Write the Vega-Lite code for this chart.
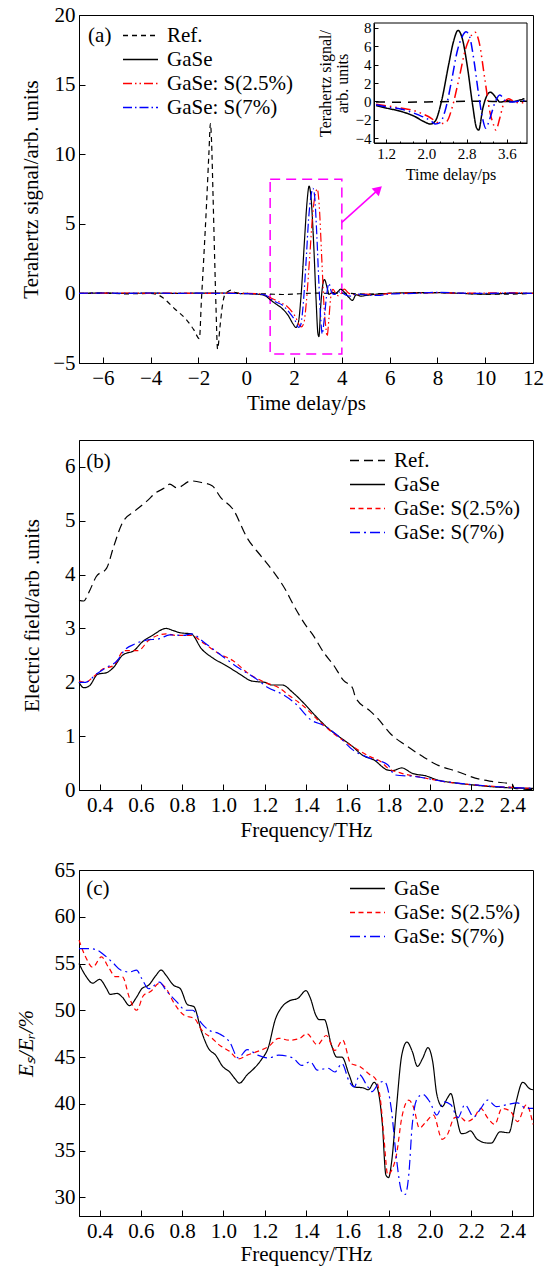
{
  "$schema": "https://vega.github.io/schema/vega-lite/v6.json",
  "background": "white",
  "padding": {"left": 14, "top": 3, "right": 5, "bottom": 2},
  "datasets": {
    "td": [
      {"s":"Ref.","t":-7,"v":0},{"s":"Ref.","t":-6,"v":0.02},{"s":"Ref.","t":-5,"v":-0.03},{"s":"Ref.","t":-4,"v":0},{"s":"Ref.","t":-3.7,"v":-0.1},{"s":"Ref.","t":-3.5,"v":-0.3},{"s":"Ref.","t":-3.0,"v":-1.1},{"s":"Ref.","t":-2.5,"v":-1.9},{"s":"Ref.","t":-2.2,"v":-2.6},{"s":"Ref.","t":-1.96,"v":-3.25},{"s":"Ref.","t":-1.88,"v":-0.6},{"s":"Ref.","t":-1.78,"v":2.5},{"s":"Ref.","t":-1.66,"v":6.5},{"s":"Ref.","t":-1.56,"v":10.2},{"s":"Ref.","t":-1.5,"v":12.2},{"s":"Ref.","t":-1.45,"v":10.8},{"s":"Ref.","t":-1.39,"v":7.0},{"s":"Ref.","t":-1.33,"v":3.0},{"s":"Ref.","t":-1.27,"v":-0.8},{"s":"Ref.","t":-1.2,"v":-4.0},{"s":"Ref.","t":-1.1,"v":-2.4},{"s":"Ref.","t":-1.0,"v":-0.9},{"s":"Ref.","t":-0.9,"v":-0.1},{"s":"Ref.","t":-0.75,"v":0.15},{"s":"Ref.","t":-0.6,"v":0.25},{"s":"Ref.","t":-0.45,"v":0.05},{"s":"Ref.","t":0,"v":0},{"s":"Ref.","t":0.5,"v":-0.02},{"s":"Ref.","t":1,"v":-0.05},{"s":"Ref.","t":1.5,"v":-0.08},{"s":"Ref.","t":2,"v":-0.05},{"s":"Ref.","t":2.5,"v":0},{"s":"Ref.","t":3,"v":0.02},{"s":"Ref.","t":3.5,"v":0},{"s":"Ref.","t":4,"v":0.02},{"s":"Ref.","t":5,"v":-0.05},{"s":"Ref.","t":6,"v":0},{"s":"Ref.","t":7,"v":0.02},{"s":"Ref.","t":8,"v":0.05},{"s":"Ref.","t":9,"v":0},{"s":"Ref.","t":10,"v":-0.05},{"s":"Ref.","t":11,"v":-0.05},{"s":"Ref.","t":12,"v":0},
      {"s":"GaSe","t":-7,"v":0},{"s":"GaSe","t":-6,"v":0.02},{"s":"GaSe","t":-5,"v":0},{"s":"GaSe","t":-4,"v":0.02},{"s":"GaSe","t":-3,"v":0},{"s":"GaSe","t":-2,"v":0.02},{"s":"GaSe","t":-1,"v":0.03},{"s":"GaSe","t":-0.5,"v":0},{"s":"GaSe","t":0,"v":-0.02},{"s":"GaSe","t":0.5,"v":-0.06},{"s":"GaSe","t":0.8,"v":-0.18},{"s":"GaSe","t":1.0,"v":-0.45},{"s":"GaSe","t":1.2,"v":-0.71},{"s":"GaSe","t":1.49,"v":-1.07},{"s":"GaSe","t":1.76,"v":-1.6},{"s":"GaSe","t":1.96,"v":-2.2},{"s":"GaSe","t":2.08,"v":-2.45},{"s":"GaSe","t":2.18,"v":-2.1},{"s":"GaSe","t":2.3,"v":0},{"s":"GaSe","t":2.44,"v":3.9},{"s":"GaSe","t":2.54,"v":6.5},{"s":"GaSe","t":2.63,"v":7.7},{"s":"GaSe","t":2.71,"v":6.9},{"s":"GaSe","t":2.82,"v":3.6},{"s":"GaSe","t":2.92,"v":-0.4},{"s":"GaSe","t":3.0,"v":-2.9},{"s":"GaSe","t":3.04,"v":-3.1},{"s":"GaSe","t":3.12,"v":-0.8},{"s":"GaSe","t":3.2,"v":0.6},{"s":"GaSe","t":3.27,"v":1.0},{"s":"GaSe","t":3.4,"v":0.3},{"s":"GaSe","t":3.46,"v":-0.07},{"s":"GaSe","t":3.6,"v":0.07},{"s":"GaSe","t":3.74,"v":0},{"s":"GaSe","t":3.85,"v":0.15},{"s":"GaSe","t":3.95,"v":0.3},{"s":"GaSe","t":4.1,"v":0.1},{"s":"GaSe","t":4.3,"v":-0.3},{"s":"GaSe","t":4.44,"v":-0.5},{"s":"GaSe","t":4.6,"v":-0.1},{"s":"GaSe","t":4.8,"v":-0.2},{"s":"GaSe","t":5.0,"v":-0.15},{"s":"GaSe","t":5.5,"v":-0.05},{"s":"GaSe","t":6,"v":0},{"s":"GaSe","t":7,"v":0.05},{"s":"GaSe","t":8,"v":0.05},{"s":"GaSe","t":9,"v":0},{"s":"GaSe","t":10,"v":-0.05},{"s":"GaSe","t":11,"v":0},{"s":"GaSe","t":12,"v":0},
      {"s":"GaSe: S(2.5%)","t":-7,"v":0},{"s":"GaSe: S(2.5%)","t":-6,"v":0.02},{"s":"GaSe: S(2.5%)","t":-5,"v":0.03},{"s":"GaSe: S(2.5%)","t":-4,"v":0},{"s":"GaSe: S(2.5%)","t":-3,"v":0.03},{"s":"GaSe: S(2.5%)","t":-2,"v":0},{"s":"GaSe: S(2.5%)","t":-1,"v":0.02},{"s":"GaSe: S(2.5%)","t":0,"v":0},{"s":"GaSe: S(2.5%)","t":0.5,"v":-0.03},{"s":"GaSe: S(2.5%)","t":0.8,"v":-0.1},{"s":"GaSe: S(2.5%)","t":1.0,"v":-0.3},{"s":"GaSe: S(2.5%)","t":1.25,"v":-0.5},{"s":"GaSe: S(2.5%)","t":1.49,"v":-0.71},{"s":"GaSe: S(2.5%)","t":1.69,"v":-0.9},{"s":"GaSe: S(2.5%)","t":2.03,"v":-1.6},{"s":"GaSe: S(2.5%)","t":2.3,"v":-2.4},{"s":"GaSe: S(2.5%)","t":2.41,"v":-2.14},{"s":"GaSe: S(2.5%)","t":2.51,"v":-0.71},{"s":"GaSe: S(2.5%)","t":2.65,"v":2.5},{"s":"GaSe: S(2.5%)","t":2.78,"v":5.7},{"s":"GaSe: S(2.5%)","t":2.9,"v":7.2},{"s":"GaSe: S(2.5%)","t":2.97,"v":7.5},{"s":"GaSe: S(2.5%)","t":3.05,"v":6.4},{"s":"GaSe: S(2.5%)","t":3.16,"v":2.5},{"s":"GaSe: S(2.5%)","t":3.26,"v":-1.07},{"s":"GaSe: S(2.5%)","t":3.34,"v":-2.6},{"s":"GaSe: S(2.5%)","t":3.38,"v":-3.1},{"s":"GaSe: S(2.5%)","t":3.46,"v":-1.79},{"s":"GaSe: S(2.5%)","t":3.53,"v":-0.36},{"s":"GaSe: S(2.5%)","t":3.63,"v":0.29},{"s":"GaSe: S(2.5%)","t":3.72,"v":0.07},{"s":"GaSe: S(2.5%)","t":3.87,"v":-0.18},{"s":"GaSe: S(2.5%)","t":4.0,"v":0.07},{"s":"GaSe: S(2.5%)","t":4.1,"v":0.3},{"s":"GaSe: S(2.5%)","t":4.3,"v":0},{"s":"GaSe: S(2.5%)","t":4.6,"v":-0.1},{"s":"GaSe: S(2.5%)","t":5,"v":-0.05},{"s":"GaSe: S(2.5%)","t":5.5,"v":-0.1},{"s":"GaSe: S(2.5%)","t":6,"v":0},{"s":"GaSe: S(2.5%)","t":7,"v":0.03},{"s":"GaSe: S(2.5%)","t":8,"v":0.05},{"s":"GaSe: S(2.5%)","t":9,"v":0.02},{"s":"GaSe: S(2.5%)","t":10,"v":0.03},{"s":"GaSe: S(2.5%)","t":11,"v":0.05},{"s":"GaSe: S(2.5%)","t":12,"v":0},
      {"s":"GaSe: S(7%)","t":-7,"v":0},{"s":"GaSe: S(7%)","t":-6,"v":0.03},{"s":"GaSe: S(7%)","t":-5,"v":0},{"s":"GaSe: S(7%)","t":-4,"v":0.03},{"s":"GaSe: S(7%)","t":-3,"v":0},{"s":"GaSe: S(7%)","t":-2,"v":0.02},{"s":"GaSe: S(7%)","t":-1,"v":0},{"s":"GaSe: S(7%)","t":0,"v":-0.02},{"s":"GaSe: S(7%)","t":0.5,"v":-0.05},{"s":"GaSe: S(7%)","t":0.8,"v":-0.12},{"s":"GaSe: S(7%)","t":1.0,"v":-0.36},{"s":"GaSe: S(7%)","t":1.21,"v":-0.6},{"s":"GaSe: S(7%)","t":1.49,"v":-0.82},{"s":"GaSe: S(7%)","t":1.83,"v":-1.43},{"s":"GaSe: S(7%)","t":2.1,"v":-2.14},{"s":"GaSe: S(7%)","t":2.18,"v":-2.45},{"s":"GaSe: S(7%)","t":2.27,"v":-2.3},{"s":"GaSe: S(7%)","t":2.37,"v":-1.07},{"s":"GaSe: S(7%)","t":2.51,"v":2.5},{"s":"GaSe: S(7%)","t":2.61,"v":5.36},{"s":"GaSe: S(7%)","t":2.71,"v":7.0},{"s":"GaSe: S(7%)","t":2.79,"v":7.55},{"s":"GaSe: S(7%)","t":2.86,"v":7.0},{"s":"GaSe: S(7%)","t":2.95,"v":4.3},{"s":"GaSe: S(7%)","t":3.04,"v":0.71},{"s":"GaSe: S(7%)","t":3.12,"v":-1.9},{"s":"GaSe: S(7%)","t":3.18,"v":-2.9},{"s":"GaSe: S(7%)","t":3.26,"v":-1.9},{"s":"GaSe: S(7%)","t":3.36,"v":-0.18},{"s":"GaSe: S(7%)","t":3.46,"v":0.71},{"s":"GaSe: S(7%)","t":3.57,"v":0.07},{"s":"GaSe: S(7%)","t":3.67,"v":-0.07},{"s":"GaSe: S(7%)","t":3.8,"v":0},{"s":"GaSe: S(7%)","t":3.9,"v":0.1},{"s":"GaSe: S(7%)","t":4.0,"v":0.05},{"s":"GaSe: S(7%)","t":4.2,"v":-0.15},{"s":"GaSe: S(7%)","t":4.4,"v":-0.2},{"s":"GaSe: S(7%)","t":4.6,"v":-0.05},{"s":"GaSe: S(7%)","t":5,"v":-0.1},{"s":"GaSe: S(7%)","t":5.5,"v":-0.15},{"s":"GaSe: S(7%)","t":6,"v":-0.05},{"s":"GaSe: S(7%)","t":7,"v":0},{"s":"GaSe: S(7%)","t":8,"v":0.08},{"s":"GaSe: S(7%)","t":9,"v":0.02},{"s":"GaSe: S(7%)","t":10,"v":0},{"s":"GaSe: S(7%)","t":11,"v":0.03},{"s":"GaSe: S(7%)","t":12,"v":0}
    ],
    "fd": [
      {"s":"Ref.","f":0.3,"v":3.52},{"s":"Ref.","f":0.323,"v":3.51},{"s":"Ref.","f":0.349,"v":3.68},{"s":"Ref.","f":0.383,"v":3.96},{"s":"Ref.","f":0.434,"v":4.12},{"s":"Ref.","f":0.468,"v":4.52},{"s":"Ref.","f":0.51,"v":4.96},{"s":"Ref.","f":0.57,"v":5.18},{"s":"Ref.","f":0.63,"v":5.37},{"s":"Ref.","f":0.672,"v":5.52},{"s":"Ref.","f":0.715,"v":5.61},{"s":"Ref.","f":0.74,"v":5.68},{"s":"Ref.","f":0.774,"v":5.61},{"s":"Ref.","f":0.843,"v":5.74},{"s":"Ref.","f":0.894,"v":5.71},{"s":"Ref.","f":0.945,"v":5.65},{"s":"Ref.","f":0.987,"v":5.43},{"s":"Ref.","f":1.047,"v":5.21},{"s":"Ref.","f":1.115,"v":4.68},{"s":"Ref.","f":1.183,"v":4.34},{"s":"Ref.","f":1.243,"v":4.05},{"s":"Ref.","f":1.302,"v":3.71},{"s":"Ref.","f":1.336,"v":3.46},{"s":"Ref.","f":1.404,"v":3.03},{"s":"Ref.","f":1.43,"v":2.9},{"s":"Ref.","f":1.49,"v":2.53},{"s":"Ref.","f":1.53,"v":2.34},{"s":"Ref.","f":1.583,"v":2.03},{"s":"Ref.","f":1.625,"v":1.9},{"s":"Ref.","f":1.64,"v":1.72},{"s":"Ref.","f":1.71,"v":1.47},{"s":"Ref.","f":1.745,"v":1.34},{"s":"Ref.","f":1.813,"v":1.03},{"s":"Ref.","f":1.88,"v":0.84},{"s":"Ref.","f":1.966,"v":0.62},{"s":"Ref.","f":2.034,"v":0.47},{"s":"Ref.","f":2.136,"v":0.34},{"s":"Ref.","f":2.22,"v":0.22},{"s":"Ref.","f":2.306,"v":0.156},{"s":"Ref.","f":2.4,"v":0.106},{"s":"Ref.","f":2.41,"v":0.03},{"s":"Ref.","f":2.5,"v":0.01},
      {"s":"GaSe","f":0.3,"v":2.0},{"s":"GaSe","f":0.323,"v":1.9},{"s":"GaSe","f":0.349,"v":1.93},{"s":"GaSe","f":0.391,"v":2.15},{"s":"GaSe","f":0.434,"v":2.18},{"s":"GaSe","f":0.468,"v":2.28},{"s":"GaSe","f":0.51,"v":2.5},{"s":"GaSe","f":0.57,"v":2.6},{"s":"GaSe","f":0.604,"v":2.74},{"s":"GaSe","f":0.655,"v":2.87},{"s":"GaSe","f":0.723,"v":3.0},{"s":"GaSe","f":0.757,"v":2.96},{"s":"GaSe","f":0.79,"v":2.92},{"s":"GaSe","f":0.843,"v":2.9},{"s":"GaSe","f":0.894,"v":2.62},{"s":"GaSe","f":0.945,"v":2.46},{"s":"GaSe","f":1.013,"v":2.31},{"s":"GaSe","f":1.08,"v":2.15},{"s":"GaSe","f":1.132,"v":2.03},{"s":"GaSe","f":1.166,"v":2.01},{"s":"GaSe","f":1.2,"v":2.0},{"s":"GaSe","f":1.234,"v":1.95},{"s":"GaSe","f":1.285,"v":1.95},{"s":"GaSe","f":1.336,"v":1.81},{"s":"GaSe","f":1.395,"v":1.59},{"s":"GaSe","f":1.455,"v":1.34},{"s":"GaSe","f":1.506,"v":1.15},{"s":"GaSe","f":1.557,"v":1.0},{"s":"GaSe","f":1.625,"v":0.81},{"s":"GaSe","f":1.676,"v":0.64},{"s":"GaSe","f":1.728,"v":0.56},{"s":"GaSe","f":1.796,"v":0.37},{"s":"GaSe","f":1.82,"v":0.36},{"s":"GaSe","f":1.864,"v":0.41},{"s":"GaSe","f":1.915,"v":0.31},{"s":"GaSe","f":1.983,"v":0.26},{"s":"GaSe","f":2.034,"v":0.19},{"s":"GaSe","f":2.136,"v":0.125},{"s":"GaSe","f":2.22,"v":0.09},{"s":"GaSe","f":2.34,"v":0.05},{"s":"GaSe","f":2.5,"v":0.03},
      {"s":"GaSe: S(2.5%)","f":0.3,"v":2.03},{"s":"GaSe: S(2.5%)","f":0.332,"v":2.0},{"s":"GaSe: S(2.5%)","f":0.366,"v":2.09},{"s":"GaSe: S(2.5%)","f":0.417,"v":2.25},{"s":"GaSe: S(2.5%)","f":0.468,"v":2.31},{"s":"GaSe: S(2.5%)","f":0.519,"v":2.59},{"s":"GaSe: S(2.5%)","f":0.587,"v":2.59},{"s":"GaSe: S(2.5%)","f":0.638,"v":2.78},{"s":"GaSe: S(2.5%)","f":0.723,"v":2.9},{"s":"GaSe: S(2.5%)","f":0.774,"v":2.87},{"s":"GaSe: S(2.5%)","f":0.843,"v":2.87},{"s":"GaSe: S(2.5%)","f":0.91,"v":2.71},{"s":"GaSe: S(2.5%)","f":0.979,"v":2.53},{"s":"GaSe: S(2.5%)","f":1.047,"v":2.4},{"s":"GaSe: S(2.5%)","f":1.115,"v":2.18},{"s":"GaSe: S(2.5%)","f":1.2,"v":2.0},{"s":"GaSe: S(2.5%)","f":1.268,"v":1.9},{"s":"GaSe: S(2.5%)","f":1.32,"v":1.75},{"s":"GaSe: S(2.5%)","f":1.387,"v":1.56},{"s":"GaSe: S(2.5%)","f":1.455,"v":1.31},{"s":"GaSe: S(2.5%)","f":1.54,"v":1.03},{"s":"GaSe: S(2.5%)","f":1.625,"v":0.81},{"s":"GaSe: S(2.5%)","f":1.71,"v":0.62},{"s":"GaSe: S(2.5%)","f":1.762,"v":0.53},{"s":"GaSe: S(2.5%)","f":1.796,"v":0.41},{"s":"GaSe: S(2.5%)","f":1.864,"v":0.31},{"s":"GaSe: S(2.5%)","f":1.966,"v":0.23},{"s":"GaSe: S(2.5%)","f":2.068,"v":0.156},{"s":"GaSe: S(2.5%)","f":2.22,"v":0.094},{"s":"GaSe: S(2.5%)","f":2.5,"v":0.03},
      {"s":"GaSe: S(7%)","f":0.3,"v":2.0},{"s":"GaSe: S(7%)","f":0.332,"v":2.0},{"s":"GaSe: S(7%)","f":0.383,"v":2.15},{"s":"GaSe: S(7%)","f":0.434,"v":2.28},{"s":"GaSe: S(7%)","f":0.485,"v":2.4},{"s":"GaSe: S(7%)","f":0.519,"v":2.59},{"s":"GaSe: S(7%)","f":0.57,"v":2.71},{"s":"GaSe: S(7%)","f":0.621,"v":2.78},{"s":"GaSe: S(7%)","f":0.69,"v":2.81},{"s":"GaSe: S(7%)","f":0.74,"v":2.88},{"s":"GaSe: S(7%)","f":0.808,"v":2.87},{"s":"GaSe: S(7%)","f":0.843,"v":2.9},{"s":"GaSe: S(7%)","f":0.91,"v":2.73},{"s":"GaSe: S(7%)","f":0.979,"v":2.53},{"s":"GaSe: S(7%)","f":1.08,"v":2.25},{"s":"GaSe: S(7%)","f":1.149,"v":2.09},{"s":"GaSe: S(7%)","f":1.217,"v":1.9},{"s":"GaSe: S(7%)","f":1.285,"v":1.78},{"s":"GaSe: S(7%)","f":1.353,"v":1.59},{"s":"GaSe: S(7%)","f":1.421,"v":1.31},{"s":"GaSe: S(7%)","f":1.49,"v":1.19},{"s":"GaSe: S(7%)","f":1.557,"v":1.0},{"s":"GaSe: S(7%)","f":1.625,"v":0.75},{"s":"GaSe: S(7%)","f":1.71,"v":0.59},{"s":"GaSe: S(7%)","f":1.796,"v":0.47},{"s":"GaSe: S(7%)","f":1.83,"v":0.28},{"s":"GaSe: S(7%)","f":1.932,"v":0.25},{"s":"GaSe: S(7%)","f":2.05,"v":0.17},{"s":"GaSe: S(7%)","f":2.22,"v":0.094},{"s":"GaSe: S(7%)","f":2.5,"v":0.03}
    ],
    "ratio": [
      {"s":"GaSe","f":0.3,"r":55.0},{"s":"GaSe","f":0.332,"r":53.7},{"s":"GaSe","f":0.366,"r":52.9},{"s":"GaSe","f":0.4,"r":53.3},{"s":"GaSe","f":0.434,"r":52.3},{"s":"GaSe","f":0.451,"r":51.7},{"s":"GaSe","f":0.485,"r":51.8},{"s":"GaSe","f":0.51,"r":51.4},{"s":"GaSe","f":0.545,"r":50.5},{"s":"GaSe","f":0.579,"r":51.4},{"s":"GaSe","f":0.604,"r":52.3},{"s":"GaSe","f":0.638,"r":52.7},{"s":"GaSe","f":0.672,"r":53.7},{"s":"GaSe","f":0.698,"r":54.3},{"s":"GaSe","f":0.723,"r":53.7},{"s":"GaSe","f":0.757,"r":52.7},{"s":"GaSe","f":0.791,"r":52.3},{"s":"GaSe","f":0.826,"r":50.6},{"s":"GaSe","f":0.856,"r":50.4},{"s":"GaSe","f":0.894,"r":47.7},{"s":"GaSe","f":0.928,"r":45.9},{"s":"GaSe","f":0.962,"r":45.2},{"s":"GaSe","f":0.996,"r":44.0},{"s":"GaSe","f":1.03,"r":43.4},{"s":"GaSe","f":1.055,"r":42.7},{"s":"GaSe","f":1.077,"r":42.2},{"s":"GaSe","f":1.115,"r":43.1},{"s":"GaSe","f":1.149,"r":43.8},{"s":"GaSe","f":1.183,"r":44.7},{"s":"GaSe","f":1.217,"r":46.0},{"s":"GaSe","f":1.251,"r":49.0},{"s":"GaSe","f":1.285,"r":50.4},{"s":"GaSe","f":1.319,"r":51.0},{"s":"GaSe","f":1.362,"r":51.3},{"s":"GaSe","f":1.4,"r":52.1},{"s":"GaSe","f":1.421,"r":51.3},{"s":"GaSe","f":1.447,"r":49.5},{"s":"GaSe","f":1.464,"r":49.0},{"s":"GaSe","f":1.489,"r":49.0},{"s":"GaSe","f":1.523,"r":46.3},{"s":"GaSe","f":1.549,"r":45.0},{"s":"GaSe","f":1.574,"r":45.0},{"s":"GaSe","f":1.609,"r":43.1},{"s":"GaSe","f":1.634,"r":41.8},{"s":"GaSe","f":1.677,"r":41.7},{"s":"GaSe","f":1.702,"r":41.5},{"s":"GaSe","f":1.731,"r":42.3},{"s":"GaSe","f":1.753,"r":41.0},{"s":"GaSe","f":1.77,"r":37.8},{"s":"GaSe","f":1.787,"r":32.4},{"s":"GaSe","f":1.8,"r":32.1},{"s":"GaSe","f":1.815,"r":33.8},{"s":"GaSe","f":1.838,"r":39.5},{"s":"GaSe","f":1.864,"r":45.2},{"s":"GaSe","f":1.889,"r":46.6},{"s":"GaSe","f":1.915,"r":45.6},{"s":"GaSe","f":1.94,"r":44.0},{"s":"GaSe","f":1.966,"r":44.9},{"s":"GaSe","f":1.991,"r":46.0},{"s":"GaSe","f":2.014,"r":44.5},{"s":"GaSe","f":2.034,"r":41.0},{"s":"GaSe","f":2.06,"r":39.7},{"s":"GaSe","f":2.085,"r":40.6},{"s":"GaSe","f":2.102,"r":41.1},{"s":"GaSe","f":2.127,"r":38.8},{"s":"GaSe","f":2.153,"r":36.8},{"s":"GaSe","f":2.178,"r":36.9},{"s":"GaSe","f":2.196,"r":37.1},{"s":"GaSe","f":2.23,"r":36.2},{"s":"GaSe","f":2.28,"r":35.8},{"s":"GaSe","f":2.298,"r":35.8},{"s":"GaSe","f":2.34,"r":37.0},{"s":"GaSe","f":2.383,"r":36.9},{"s":"GaSe","f":2.417,"r":40.1},{"s":"GaSe","f":2.45,"r":42.3},{"s":"GaSe","f":2.485,"r":41.6},{"s":"GaSe","f":2.5,"r":41.5},
      {"s":"GaSe: S(2.5%)","f":0.3,"r":57.5},{"s":"GaSe: S(2.5%)","f":0.332,"r":55.7},{"s":"GaSe: S(2.5%)","f":0.366,"r":54.6},{"s":"GaSe: S(2.5%)","f":0.409,"r":55.7},{"s":"GaSe: S(2.5%)","f":0.443,"r":54.6},{"s":"GaSe: S(2.5%)","f":0.477,"r":53.6},{"s":"GaSe: S(2.5%)","f":0.51,"r":53.6},{"s":"GaSe: S(2.5%)","f":0.545,"r":51.3},{"s":"GaSe: S(2.5%)","f":0.579,"r":50.0},{"s":"GaSe: S(2.5%)","f":0.613,"r":51.6},{"s":"GaSe: S(2.5%)","f":0.647,"r":52.0},{"s":"GaSe: S(2.5%)","f":0.69,"r":52.9},{"s":"GaSe: S(2.5%)","f":0.723,"r":52.3},{"s":"GaSe: S(2.5%)","f":0.757,"r":50.9},{"s":"GaSe: S(2.5%)","f":0.808,"r":49.5},{"s":"GaSe: S(2.5%)","f":0.86,"r":49.1},{"s":"GaSe: S(2.5%)","f":0.894,"r":47.9},{"s":"GaSe: S(2.5%)","f":0.945,"r":47.0},{"s":"GaSe: S(2.5%)","f":0.979,"r":46.3},{"s":"GaSe: S(2.5%)","f":1.03,"r":45.6},{"s":"GaSe: S(2.5%)","f":1.072,"r":44.8},{"s":"GaSe: S(2.5%)","f":1.115,"r":45.2},{"s":"GaSe: S(2.5%)","f":1.166,"r":45.6},{"s":"GaSe: S(2.5%)","f":1.217,"r":46.1},{"s":"GaSe: S(2.5%)","f":1.268,"r":47.0},{"s":"GaSe: S(2.5%)","f":1.319,"r":46.8},{"s":"GaSe: S(2.5%)","f":1.37,"r":47.0},{"s":"GaSe: S(2.5%)","f":1.404,"r":47.5},{"s":"GaSe: S(2.5%)","f":1.455,"r":46.3},{"s":"GaSe: S(2.5%)","f":1.498,"r":47.3},{"s":"GaSe: S(2.5%)","f":1.54,"r":45.7},{"s":"GaSe: S(2.5%)","f":1.578,"r":46.8},{"s":"GaSe: S(2.5%)","f":1.617,"r":44.3},{"s":"GaSe: S(2.5%)","f":1.66,"r":44.0},{"s":"GaSe: S(2.5%)","f":1.71,"r":43.1},{"s":"GaSe: S(2.5%)","f":1.736,"r":42.7},{"s":"GaSe: S(2.5%)","f":1.762,"r":40.2},{"s":"GaSe: S(2.5%)","f":1.779,"r":36.0},{"s":"GaSe: S(2.5%)","f":1.796,"r":32.4},{"s":"GaSe: S(2.5%)","f":1.813,"r":32.8},{"s":"GaSe: S(2.5%)","f":1.838,"r":34.5},{"s":"GaSe: S(2.5%)","f":1.864,"r":38.5},{"s":"GaSe: S(2.5%)","f":1.898,"r":40.4},{"s":"GaSe: S(2.5%)","f":1.923,"r":39.5},{"s":"GaSe: S(2.5%)","f":1.949,"r":37.4},{"s":"GaSe: S(2.5%)","f":1.983,"r":38.1},{"s":"GaSe: S(2.5%)","f":2.017,"r":38.8},{"s":"GaSe: S(2.5%)","f":2.06,"r":36.2},{"s":"GaSe: S(2.5%)","f":2.085,"r":36.7},{"s":"GaSe: S(2.5%)","f":2.119,"r":38.5},{"s":"GaSe: S(2.5%)","f":2.145,"r":38.6},{"s":"GaSe: S(2.5%)","f":2.178,"r":38.1},{"s":"GaSe: S(2.5%)","f":2.213,"r":38.5},{"s":"GaSe: S(2.5%)","f":2.247,"r":39.5},{"s":"GaSe: S(2.5%)","f":2.28,"r":38.5},{"s":"GaSe: S(2.5%)","f":2.315,"r":37.8},{"s":"GaSe: S(2.5%)","f":2.349,"r":39.5},{"s":"GaSe: S(2.5%)","f":2.391,"r":39.2},{"s":"GaSe: S(2.5%)","f":2.425,"r":38.1},{"s":"GaSe: S(2.5%)","f":2.468,"r":39.9},{"s":"GaSe: S(2.5%)","f":2.5,"r":37.8},
      {"s":"GaSe: S(7%)","f":0.3,"r":56.6},{"s":"GaSe: S(7%)","f":0.349,"r":56.6},{"s":"GaSe: S(7%)","f":0.391,"r":56.4},{"s":"GaSe: S(7%)","f":0.417,"r":56.0},{"s":"GaSe: S(7%)","f":0.468,"r":55.0},{"s":"GaSe: S(7%)","f":0.502,"r":54.3},{"s":"GaSe: S(7%)","f":0.545,"r":54.1},{"s":"GaSe: S(7%)","f":0.579,"r":54.3},{"s":"GaSe: S(7%)","f":0.604,"r":53.4},{"s":"GaSe: S(7%)","f":0.638,"r":52.3},{"s":"GaSe: S(7%)","f":0.69,"r":53.0},{"s":"GaSe: S(7%)","f":0.723,"r":52.1},{"s":"GaSe: S(7%)","f":0.774,"r":50.9},{"s":"GaSe: S(7%)","f":0.817,"r":50.0},{"s":"GaSe: S(7%)","f":0.851,"r":50.0},{"s":"GaSe: S(7%)","f":0.894,"r":48.6},{"s":"GaSe: S(7%)","f":0.928,"r":47.9},{"s":"GaSe: S(7%)","f":0.979,"r":47.5},{"s":"GaSe: S(7%)","f":1.03,"r":46.6},{"s":"GaSe: S(7%)","f":1.072,"r":44.9},{"s":"GaSe: S(7%)","f":1.115,"r":45.8},{"s":"GaSe: S(7%)","f":1.166,"r":45.2},{"s":"GaSe: S(7%)","f":1.217,"r":44.9},{"s":"GaSe: S(7%)","f":1.268,"r":45.2},{"s":"GaSe: S(7%)","f":1.336,"r":44.9},{"s":"GaSe: S(7%)","f":1.379,"r":44.1},{"s":"GaSe: S(7%)","f":1.421,"r":44.5},{"s":"GaSe: S(7%)","f":1.455,"r":43.6},{"s":"GaSe: S(7%)","f":1.506,"r":43.8},{"s":"GaSe: S(7%)","f":1.54,"r":43.4},{"s":"GaSe: S(7%)","f":1.574,"r":44.3},{"s":"GaSe: S(7%)","f":1.609,"r":42.4},{"s":"GaSe: S(7%)","f":1.634,"r":41.8},{"s":"GaSe: S(7%)","f":1.66,"r":43.1},{"s":"GaSe: S(7%)","f":1.694,"r":42.0},{"s":"GaSe: S(7%)","f":1.72,"r":41.3},{"s":"GaSe: S(7%)","f":1.753,"r":42.2},{"s":"GaSe: S(7%)","f":1.779,"r":42.4},{"s":"GaSe: S(7%)","f":1.813,"r":39.5},{"s":"GaSe: S(7%)","f":1.838,"r":34.2},{"s":"GaSe: S(7%)","f":1.864,"r":30.6},{"s":"GaSe: S(7%)","f":1.881,"r":30.3},{"s":"GaSe: S(7%)","f":1.898,"r":32.4},{"s":"GaSe: S(7%)","f":1.915,"r":37.8},{"s":"GaSe: S(7%)","f":1.94,"r":40.6},{"s":"GaSe: S(7%)","f":1.966,"r":41.0},{"s":"GaSe: S(7%)","f":2.0,"r":40.2},{"s":"GaSe: S(7%)","f":2.034,"r":38.8},{"s":"GaSe: S(7%)","f":2.068,"r":40.2},{"s":"GaSe: S(7%)","f":2.102,"r":39.9},{"s":"GaSe: S(7%)","f":2.136,"r":38.5},{"s":"GaSe: S(7%)","f":2.17,"r":39.9},{"s":"GaSe: S(7%)","f":2.213,"r":38.6},{"s":"GaSe: S(7%)","f":2.247,"r":39.5},{"s":"GaSe: S(7%)","f":2.28,"r":40.4},{"s":"GaSe: S(7%)","f":2.323,"r":39.7},{"s":"GaSe: S(7%)","f":2.374,"r":39.9},{"s":"GaSe: S(7%)","f":2.425,"r":40.1},{"s":"GaSe: S(7%)","f":2.468,"r":39.5},{"s":"GaSe: S(7%)","f":2.5,"r":39.5}
    ]
  },
  "vconcat": [
    {
      "width": 454,
      "height": 348,
      "layer": [
        {
          "layer": [
            {
              "data": {"values": [{"t0": 1, "t1": 4, "v0": -4.35, "v1": 8.2}]},
              "mark": {"type": "rect", "filled": false, "stroke": "#ff00ff", "strokeWidth": 1.5, "strokeDash": [10, 6]},
              "encoding": {
                "x": {"field": "t0", "type": "quantitative"},
                "x2": {"field": "t1"},
                "y": {"field": "v0", "type": "quantitative"},
                "y2": {"field": "v1"}
              }
            },
            {
              "data": {"values": [{"t0": 4, "t1": 5.49, "v0": 5.1, "v1": 7.4}]},
              "mark": {"type": "rule", "color": "#ff00ff", "strokeWidth": 1.5},
              "encoding": {
                "x": {"field": "t0", "type": "quantitative"},
                "x2": {"field": "t1"},
                "y": {"field": "v0", "type": "quantitative"},
                "y2": {"field": "v1"}
              }
            },
            {
              "data": {"values": [{"t": 5.49, "v": 7.4}]},
              "mark": {"type": "point", "shape": "triangle", "angle": 47, "filled": true, "color": "#ff00ff", "opacity": 1, "size": 110},
              "encoding": {
                "x": {"field": "t", "type": "quantitative"},
                "y": {"field": "v", "type": "quantitative"}
              }
            },
            {
              "data": {"values": [{"t": -6.62, "v": 18.5, "label": "(a)"}]},
              "mark": {"type": "text", "align": "left", "baseline": "middle", "font": "Liberation Serif", "fontSize": 21, "color": "black"},
              "encoding": {
                "x": {"field": "t", "type": "quantitative"},
                "y": {"field": "v", "type": "quantitative"},
                "text": {"field": "label"}
              }
            },
            {
              "data": {"name": "td"},
              "mark": {"type": "line", "strokeWidth": 1.2, "interpolate": "monotone"},
              "encoding": {
                "x": {
                  "field": "t", "type": "quantitative",
                  "scale": {"domain": [-7, 12], "nice": false, "zero": false},
                  "axis": {
                    "title": "Time delay/ps", "titlePadding": 4, "labelOverlap": false,
                    "values": [-6,-5,-4,-3,-2,-1,0,1,2,3,4,5,6,7,8,9,10,11,12],
                    "labelExpr": "abs(datum.value/2 - round(datum.value/2)) < 0.01 ? datum.label : ''",
                    "tickSize": {"condition": {"test": "abs(datum.value/2 - round(datum.value/2)) < 0.01", "value": -6}, "value": -3}
                  }
                },
                "y": {
                  "field": "v", "type": "quantitative",
                  "scale": {"domain": [-5, 20], "nice": false, "zero": false},
                  "axis": {
                    "title": "Terahertz signal/arb. units", "titlePadding": 11, "labelOverlap": false,
                    "values": [-5,-2.5,0,2.5,5,7.5,10,12.5,15,17.5,20],
                    "labelExpr": "abs(datum.value/5 - round(datum.value/5)) < 0.01 ? datum.label : ''",
                    "tickSize": {"condition": {"test": "abs(datum.value/5 - round(datum.value/5)) < 0.01", "value": -6}, "value": -3}
                  }
                },
                "color": {
                  "field": "s", "type": "nominal",
                  "scale": {"domain": ["Ref.", "GaSe", "GaSe: S(2.5%)", "GaSe: S(7%)"], "range": ["black", "black", "#ff0000", "#0000ff"]},
                  "legend": {"title": null, "orient": "none", "legendX": 43, "legendY": 9}
                },
                "strokeDash": {
                  "field": "s", "type": "nominal",
                  "scale": {"domain": ["Ref.", "GaSe", "GaSe: S(2.5%)", "GaSe: S(7%)"], "range": [[5, 4], [1, 0], [9, 3, 1.5, 3, 1.5, 3], [9, 3, 1.5, 3]]},
                  "legend": {"title": null, "orient": "none", "legendX": 43, "legendY": 9}
                }
              }
            }
          ]
        },
        {
          "layer": [
            {
              "data": {"values": [{"t0": 0.96, "t1": 4, "v0": -4.5, "v1": 8.5}]},
              "mark": {"type": "rect", "filled": false, "stroke": "black", "strokeWidth": 1},
              "encoding": {
                "x": {"field": "t0", "type": "quantitative"},
                "x2": {"field": "t1"},
                "y": {"field": "v0", "type": "quantitative"},
                "y2": {"field": "v1"}
              }
            },
            {
              "data": {"name": "td"},
              "transform": [{"filter": "datum.t >= 0.96 && datum.t <= 4"}],
              "mark": {"type": "line", "strokeWidth": 1.5, "interpolate": "monotone"},
              "encoding": {
                "x": {
                  "field": "t", "type": "quantitative",
                  "scale": {"domain": [0.96, 4], "range": [295, 448], "nice": false, "zero": false},
                  "axis": {
                    "orient": "bottom", "offset": -220, "labelOverlap": false,
                    "title": "Time delay/ps", "titleFontSize": 16, "labelFontSize": 15, "titlePadding": 3,
                    "values": [1.2,1.4667,1.7333,2,2.2667,2.5333,2.8,3.0667,3.3333,3.6,3.8667],
                    "labelExpr": "indexof([1.2,2,2.8,3.6], datum.value) >= 0 ? format(datum.value, '.1f') : ''",
                    "tickSize": {"condition": {"test": "indexof([1.2,2,2.8,3.6], datum.value) >= 0", "value": -4}, "value": -2},
                    "labelPadding": 7
                  }
                },
                "y": {
                  "field": "v", "type": "quantitative",
                  "scale": {"domain": [-4.5, 8.5], "range": [128, 8], "nice": false, "zero": false},
                  "axis": {
                    "orient": "left", "offset": -295, "labelOverlap": false,
                    "title": ["Terahertz signal/", "arb. units"], "titleFontSize": 16, "labelFontSize": 15, "titlePadding": 5, "titleLineHeight": 17,
                    "values": [-4,-3,-2,-1,0,1,2,3,4,5,6,7,8],
                    "labelExpr": "abs(datum.value/2 - round(datum.value/2)) < 0.01 ? datum.label : ''",
                    "tickSize": {"condition": {"test": "abs(datum.value/2 - round(datum.value/2)) < 0.01", "value": -4}, "value": -2},
                    "labelPadding": 7
                  }
                },
                "color": {
                  "field": "s", "type": "nominal",
                  "scale": {"domain": ["Ref.", "GaSe", "GaSe: S(2.5%)", "GaSe: S(7%)"], "range": ["black", "black", "#ff0000", "#0000ff"]},
                  "legend": null
                },
                "strokeDash": {
                  "field": "s", "type": "nominal",
                  "scale": {"domain": ["Ref.", "GaSe", "GaSe: S(2.5%)", "GaSe: S(7%)"], "range": [[9, 7], [1, 0], [10, 4, 1.5, 4, 1.5, 4], [10, 4, 1.5, 4]]},
                  "legend": null
                }
              }
            }
          ]
        }
      ],
      "resolve": {"scale": {"x": "independent", "y": "independent", "color": "independent", "strokeDash": "independent"}, "axis": {"x": "independent", "y": "independent"}, "legend": {"color": "independent", "strokeDash": "independent"}}
    },
    {
      "vconcat": [
        {
          "width": 454,
          "height": 350,
          "layer": [
            {
              "data": {"name": "fd"},
              "mark": {"type": "line", "strokeWidth": 1.2, "interpolate": "monotone"},
              "encoding": {
                "x": {
                  "field": "f", "type": "quantitative",
                  "scale": {"domain": [0.3, 2.5], "nice": false, "zero": false},
                  "axis": {
                    "title": "Frequency/THz", "format": ".1f", "titlePadding": 4, "labelOverlap": false,
                    "values": [0.4,0.5,0.6,0.7,0.8,0.9,1.0,1.1,1.2,1.3,1.4,1.5,1.6,1.7,1.8,1.9,2.0,2.1,2.2,2.3,2.4,2.5],
                    "labelExpr": "abs(datum.value*5 - round(datum.value*5)) < 0.01 ? datum.label : ''",
                    "tickSize": {"condition": {"test": "abs(datum.value*5 - round(datum.value*5)) < 0.01", "value": -6}, "value": -3}
                  }
                },
                "y": {
                  "field": "v", "type": "quantitative",
                  "scale": {"domain": [0, 6.5], "nice": false, "zero": false},
                  "axis": {
                    "title": "Electric field/arb .units", "titlePadding": 22, "labelOverlap": false,
                    "values": [0,0.5,1,1.5,2,2.5,3,3.5,4,4.5,5,5.5,6,6.5],
                    "labelExpr": "abs(datum.value - round(datum.value)) < 0.01 ? datum.label : ''",
                    "tickSize": {"condition": {"test": "abs(datum.value - round(datum.value)) < 0.01", "value": -6}, "value": -3}
                  }
                },
                "color": {
                  "field": "s", "type": "nominal",
                  "scale": {"domain": ["Ref.", "GaSe", "GaSe: S(2.5%)", "GaSe: S(7%)"], "range": ["black", "black", "#ff0000", "#0000ff"]},
                  "legend": {"title": null, "orient": "none", "legendX": 270, "legendY": 9}
                },
                "strokeDash": {
                  "field": "s", "type": "nominal",
                  "scale": {"domain": ["Ref.", "GaSe", "GaSe: S(2.5%)", "GaSe: S(7%)"], "range": [[9, 5], [1, 0], [5, 3.5], [10, 4, 2, 4]]},
                  "legend": {"title": null, "orient": "none", "legendX": 270, "legendY": 9}
                }
              }
            },
            {
              "data": {"values": [{"f": 0.335, "v": 6.1, "label": "(b)"}]},
              "mark": {"type": "text", "align": "left", "baseline": "middle", "font": "Liberation Serif", "fontSize": 21, "color": "black"},
              "encoding": {
                "x": {"field": "f", "type": "quantitative"},
                "y": {"field": "v", "type": "quantitative"},
                "text": {"field": "label"}
              }
            }
          ]
        },
        {
          "width": 454,
          "height": 346,
          "layer": [
            {
              "data": {"name": "ratio"},
              "mark": {"type": "line", "strokeWidth": 1.2, "interpolate": "monotone"},
              "encoding": {
                "x": {
                  "field": "f", "type": "quantitative",
                  "scale": {"domain": [0.3, 2.5], "nice": false, "zero": false},
                  "axis": {
                    "title": "Frequency/THz", "format": ".1f", "titlePadding": 2, "labelOverlap": false,
                    "values": [0.4,0.5,0.6,0.7,0.8,0.9,1.0,1.1,1.2,1.3,1.4,1.5,1.6,1.7,1.8,1.9,2.0,2.1,2.2,2.3,2.4,2.5],
                    "labelExpr": "abs(datum.value*5 - round(datum.value*5)) < 0.01 ? datum.label : ''",
                    "tickSize": {"condition": {"test": "abs(datum.value*5 - round(datum.value*5)) < 0.01", "value": -6}, "value": -3}
                  }
                },
                "y": {
                  "field": "r", "type": "quantitative",
                  "scale": {"domain": [28, 65], "nice": false, "zero": false},
                  "axis": {
                    "title": "Eₛ/Eᵣ/%", "titleFontStyle": "italic", "titlePadding": 18, "labelOverlap": false,
                    "values": [30,32.5,35,37.5,40,42.5,45,47.5,50,52.5,55,57.5,60,62.5,65],
                    "labelExpr": "abs(datum.value/5 - round(datum.value/5)) < 0.01 ? datum.label : ''",
                    "tickSize": {"condition": {"test": "abs(datum.value/5 - round(datum.value/5)) < 0.01", "value": -6}, "value": -3}
                  }
                },
                "color": {
                  "field": "s", "type": "nominal",
                  "scale": {"domain": ["GaSe", "GaSe: S(2.5%)", "GaSe: S(7%)"], "range": ["black", "#ff0000", "#0000ff"]},
                  "legend": {"title": null, "orient": "none", "legendX": 270, "legendY": 7}
                },
                "strokeDash": {
                  "field": "s", "type": "nominal",
                  "scale": {"domain": ["GaSe", "GaSe: S(2.5%)", "GaSe: S(7%)"], "range": [[1, 0], [5, 3.5], [10, 4, 2, 4]]},
                  "legend": {"title": null, "orient": "none", "legendX": 270, "legendY": 7}
                }
              }
            },
            {
              "data": {"values": [{"f": 0.335, "r": 63.0, "label": "(c)"}]},
              "mark": {"type": "text", "align": "left", "baseline": "middle", "font": "Liberation Serif", "fontSize": 21, "color": "black"},
              "encoding": {
                "x": {"field": "f", "type": "quantitative"},
                "y": {"field": "r", "type": "quantitative"},
                "text": {"field": "label"}
              }
            }
          ]
        }
      ],
      "spacing": 80,
      "bounds": "flush",
      "resolve": {"scale": {"color": "independent", "strokeDash": "independent"}, "legend": {"color": "independent", "strokeDash": "independent"}}
    }
  ],
  "spacing": 77,
  "bounds": "flush",
  "resolve": {"scale": {"color": "independent", "strokeDash": "independent"}, "legend": {"color": "independent", "strokeDash": "independent"}},
  "config": {
    "font": "Liberation Serif",
    "view": {"stroke": "black", "strokeWidth": 1},
    "axis": {
      "grid": false,
      "labelFont": "Liberation Serif", "labelFontSize": 21, "labelColor": "black",
      "titleFont": "Liberation Serif", "titleFontSize": 21, "titleFontWeight": "normal", "titleColor": "black",
      "domainColor": "black", "domainWidth": 1, "tickColor": "black", "tickWidth": 1,
      "labelPadding": 10, "labelFlush": false, "labelOverlap": false, "titlePadding": 6
    },
    "legend": {
      "symbolType": "stroke", "symbolSize": 1225, "symbolStrokeWidth": 1.3,
      "labelFont": "Liberation Serif", "labelFontSize": 21, "labelColor": "black", "labelOffset": 8, "labelLimit": 0,
      "clipHeight": 23, "rowPadding": 1, "padding": 0
    }
  }
}
